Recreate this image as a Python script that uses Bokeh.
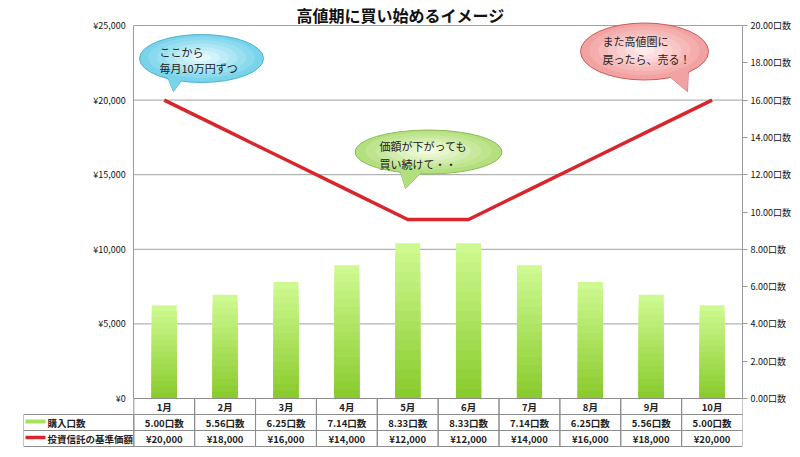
from bokeh.plotting import figure
from bokeh.models import Range1d, LinearAxis, FixedTicker
from bokeh.core.properties import value
from bokeh.embed import file_html
from bokeh.resources import INLINE

# ---------------- data ----------------
months = ["1月", "2月", "3月", "4月", "5月", "6月", "7月", "8月", "9月", "10月"]
units = [5.00, 5.56, 6.25, 7.14, 8.33, 8.33, 7.14, 6.25, 5.56, 5.00]          # 購入口数 (right axis)
prices = [20000, 18000, 16000, 14000, 12000, 12000, 14000, 16000, 18000, 20000]  # 基準価額 (left axis)
yen_ticks = [0, 5000, 10000, 15000, 20000, 25000]
unit_ticks = [0, 2, 4, 6, 8, 10, 12, 14, 16, 18, 20]
series_names = ["購入口数", "投資信託の基準価額"]
title_text = "高値期に買い始めるイメージ"
notes = [["ここから", "毎月10万円ずつ"],
         ["また高値圏に", "戻ったら、売る！"],
         ["価額が下がっても", "買い続けて・・"]]

FONT = value("Noto Sans CJK JP")

# ---------------- layout constants (pixels) ----------------
W, H = 800, 457
FL, FR = 23, 742          # frame left/right
XL = 133.3                # plot-area left
Y0, Y1 = 398, 25          # pixel of 0 and of axis top
ppu = (FR - XL) / 10.0
x_start = 0.5 - (XL - FL) / ppu
x_end = 10.5
yen_pp = 25000 / (Y0 - Y1)
u_pp = 20 / (Y0 - Y1)

idx = list(range(1, len(months) + 1))

p = figure(width=W, height=H, output_backend="svg", toolbar_location=None, title=None,
           x_range=Range1d(x_start, x_end),
           y_range=Range1d(-(H - Y0) * yen_pp, 25000 + Y1 * yen_pp),
           x_axis_location=None, y_axis_location="left",
           min_border_left=FL, min_border_right=W - FR, min_border_top=0, min_border_bottom=0,
           outline_line_color=None, background_fill_color="white", border_fill_color="white")
p.xgrid.visible = False
p.ygrid.visible = False
p.extra_y_ranges = {"units": Range1d(-(H - Y0) * u_pp, 20 + Y1 * u_pp),
                    "px": Range1d(H, 0)}
p.extra_x_ranges = {"px": Range1d(FL, FR)}

# left axis (yen)
ya = p.yaxis[0]
ya.fixed_location = 0.5
ya.ticker = FixedTicker(ticks=yen_ticks)
ya.major_label_overrides = {t: "¥{:,}".format(t) for t in yen_ticks}
ya.bounds = (0, 25000)
ya.axis_line_color = "#9a9a9a"
ya.major_tick_in = 0
ya.major_tick_out = 0
ya.minor_tick_in = 0
ya.minor_tick_out = 0
ya.major_label_standoff = 8
ya.major_label_text_font = "Noto Sans CJK JP"
ya.major_label_text_font_size = "9px"
ya.major_label_text_color = "#111111"

# right axis (units)
ra = LinearAxis(y_range_name="units", ticker=FixedTicker(ticks=unit_ticks),
                major_label_overrides={t: "{:.2f}口数".format(t) for t in unit_ticks},
                bounds=(0, 20), axis_line_color="#9a9a9a", major_tick_line_color="#9a9a9a",
                major_tick_in=0, major_tick_out=5, minor_tick_in=0, minor_tick_out=0,
                major_label_standoff=3, major_label_text_font="Noto Sans CJK JP",
                major_label_text_font_size="9px", major_label_text_color="#111111")
p.add_layout(ra, "right")

# grid lines
gl = yen_ticks[1:]
p.segment(x0=[0.5] * len(gl), x1=[10.5] * len(gl), y0=gl, y1=gl,
          line_color="#a0a0a0", line_width=1)


def mix(c1, c2, t):
    return "#%02x%02x%02x" % tuple(int(round(a + (b - a) * t)) for a, b in zip(c1, c2))


# bars with vertical gradient (light top -> darker bottom)
N = 16
top_c, bot_c = (206, 249, 144), (138, 204, 46)
for k in range(N):
    f = (N - k) / N
    p.vbar(x=idx, top=[u * f for u in units], bottom=0, width=0.41,
           fill_color=mix(top_c, bot_c, k / (N - 1)), line_color=None, y_range_name="units")

# price line
p.line(idx, prices, line_color="#d8262c", line_width=3.5)

# ---------------- title ----------------
p.text(x=[400], y=[14], text=[title_text], x_range_name="px", y_range_name="px",
       text_font=FONT, text_font_style="bold", text_font_size="16px",
       text_align="center", text_baseline="middle", text_color="#111111")


# ---------------- callouts ----------------
def callout(cx, cy, w, h, tail, edge, center, border, lines, tx, tys):
    xs = [t[0] for t in tail]
    ys = [t[1] for t in tail]
    p.patch(xs, ys, fill_color=edge, line_color=border, line_width=1,
            x_range_name="px", y_range_name="px")
    p.ellipse(x=[cx], y=[cy], width=w, height=h, width_units="screen", height_units="screen",
              fill_color=edge, line_color=border, line_width=1,
              x_range_name="px", y_range_name="px")
    p.patch(xs, ys, fill_color=edge, line_color=None, x_range_name="px", y_range_name="px")
    M = 6
    for j in range(1, M + 1):
        s = 1 - j * 0.14
        p.ellipse(x=[cx], y=[cy - 1], width=w * s, height=h * s,
                  width_units="screen", height_units="screen",
                  fill_color=mix(edge, center, j / M), line_color=None,
                  x_range_name="px", y_range_name="px")
    p.text(x=[tx] * len(lines), y=tys, text=lines, x_range_name="px", y_range_name="px",
           text_font=FONT, text_font_size="11px", text_align="left",
           text_baseline="middle", text_color="#222222")


def hexrgb(h):
    return tuple(int(h[i:i + 2], 16) for i in (1, 3, 5))


callout(201, 58, 124, 48, [(166, 74), (184, 76), (173, 91)],
        hexrgb("#78d3eb"), hexrgb("#e2f9fe"), "#4fb2cd", notes[0], 159, [51, 67])
callout(644, 51, 128, 57, [(662, 70), (688, 62), (687, 91)],
        hexrgb("#f3a2a2"), hexrgb("#feeaea"), "#cd5b5b", notes[1], 602, [40, 58])
callout(428, 151.5, 147, 44, [(398, 165), (425, 168), (405, 188)],
        hexrgb("#b4df7e"), hexrgb("#f0fbdf"), "#8bbb55", notes[2], 379, [145, 163])

# ---------------- data table ----------------
row_y = [406, 422, 438]
GRID_C = "#8c8c8c"
for ry in row_y:
    p.rect(x=idx, y=[ry] * len(idx), width=1, height=16, y_range_name="px",
           fill_color=None, line_color=GRID_C, line_width=1)
p.rect(x=[(FL + XL) / 2] * 2, y=row_y[1:], width=XL - FL, height=16,
       x_range_name="px", y_range_name="px", fill_color=None, line_color=GRID_C, line_width=1)

p.text(x=idx, y=[row_y[0]] * len(idx), text=months, y_range_name="px",
       text_font=FONT, text_font_size="9.5px", text_font_style="bold",
       text_align="center", text_baseline="middle", text_color="#222222")
p.text(x=idx, y=[row_y[1]] * len(idx), text=["{:.2f}口数".format(u) for u in units],
       y_range_name="px", text_font=FONT, text_font_size="9.5px", text_font_style="bold",
       text_align="center", text_baseline="middle", text_color="#222222")
p.text(x=idx, y=[row_y[2]] * len(idx), text=["¥{:,}".format(v) for v in prices],
       y_range_name="px", text_font=FONT, text_font_size="9.5px", text_font_style="bold",
       text_align="center", text_baseline="middle", text_color="#222222")

# legend swatches + names
p.rect(x=[35], y=[row_y[1] - 1], width=20, height=4, x_range_name="px", y_range_name="px",
       fill_color="#a8e25c", line_color=None)
p.segment(x0=[25], x1=[45], y0=[row_y[2] - 1], y1=[row_y[2] - 1], line_color="#d8262c",
          line_width=3.5, x_range_name="px", y_range_name="px")
p.text(x=[47, 47], y=row_y[1:], text=series_names, x_range_name="px", y_range_name="px",
       text_font=FONT, text_font_size="9.5px", text_font_style="bold",
       text_align="left", text_baseline="middle", text_color="#222222")

open("out.html", "w").write(file_html(p, INLINE))
